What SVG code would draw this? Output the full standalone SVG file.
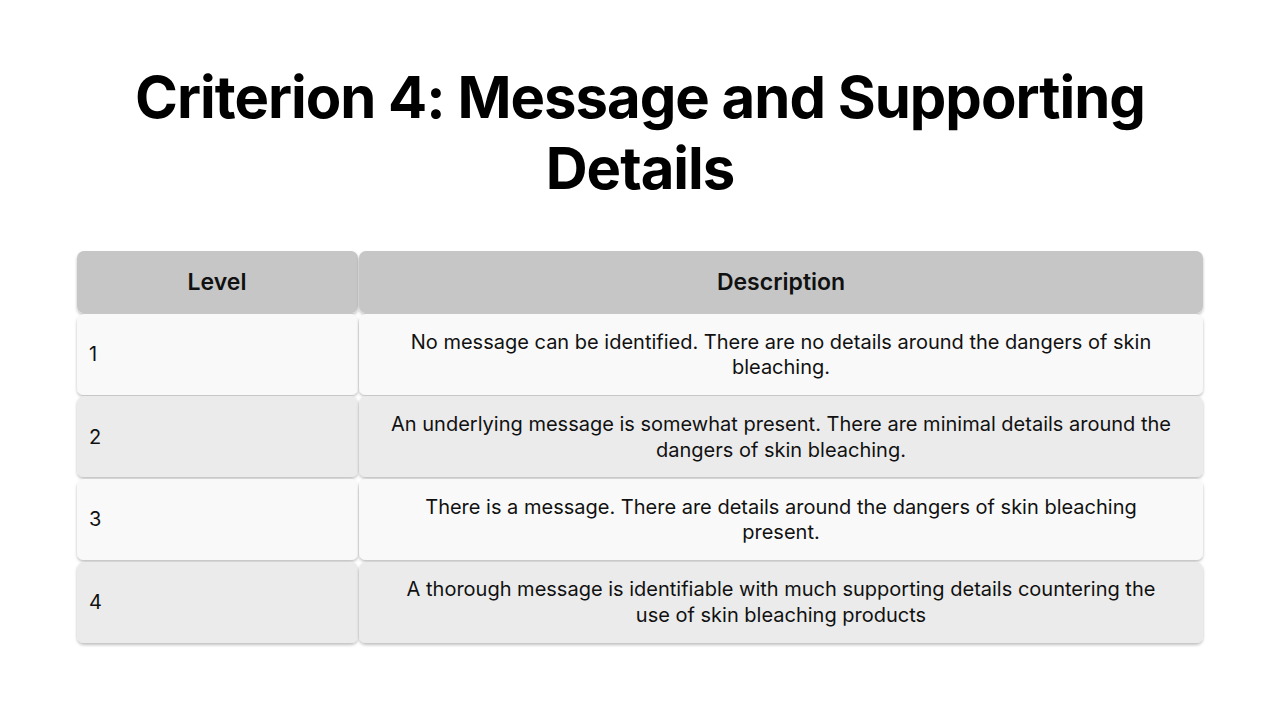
<svg xmlns="http://www.w3.org/2000/svg" width="1280" height="720" viewBox="0 0 1280 720">
<defs>
<filter id="sh" x="-5%" y="-10%" width="110%" height="130%"><feDropShadow dx="0" dy="2" stdDeviation="1.5" flood-color="#000" flood-opacity="0.25"/></filter>
<style>
.t{font-family:Inter,"Liberation Sans",sans-serif;font-weight:700;font-size:58px;fill:#000;text-anchor:middle;letter-spacing:-1px}
.h{font-family:Inter,"Liberation Sans",sans-serif;font-weight:600;font-size:23px;fill:#111;text-anchor:middle}
.b{font-family:Inter,"Liberation Sans",sans-serif;font-size:20px;fill:#111}
.c{text-anchor:middle}
.hd{fill:#c6c6c6;filter:url(#sh)}
.l{fill:#f9f9f9;filter:url(#sh)}
.d{fill:#ebebeb;filter:url(#sh)}
</style>
</defs>
<rect width="1280" height="720" fill="#fff"/>
<text class="t" x="640" y="118">Criterion 4: Message and Supporting</text>
<text class="t" x="640" y="189">Details</text>
<g id="header">
<rect class="hd" x="77" y="251" width="281" height="62" rx="7"/>
<rect class="hd" x="359" y="251" width="844" height="62" rx="7"/>
<text class="h" x="217" y="290">Level</text>
<text class="h" x="781" y="290">Description</text>
</g>
<g id="row1">
<rect class="l" x="77" y="314" width="281" height="81" rx="7"/>
<rect class="l" x="359" y="314" width="844" height="81" rx="7"/>
<text class="b" x="89" y="361">1</text>
<text class="b c" x="781" y="349">No message can be identified. There are no details around the dangers of skin</text>
<text class="b c" x="781" y="374">bleaching.</text>
</g>
<g id="row2">
<rect class="d" x="77" y="396" width="281" height="81" rx="7"/>
<rect class="d" x="359" y="396" width="844" height="81" rx="7"/>
<text class="b" x="89" y="444">2</text>
<text class="b c" x="781" y="431">An underlying message is somewhat present. There are minimal details around the</text>
<text class="b c" x="781" y="457">dangers of skin bleaching.</text>
</g>
<g id="row3">
<rect class="l" x="77" y="479" width="281" height="81" rx="7"/>
<rect class="l" x="359" y="479" width="844" height="81" rx="7"/>
<text class="b" x="89" y="526">3</text>
<text class="b c" x="781" y="514">There is a message. There are details around the dangers of skin bleaching</text>
<text class="b c" x="781" y="539">present.</text>
</g>
<g id="row4">
<rect class="d" x="77" y="562" width="281" height="81" rx="7"/>
<rect class="d" x="359" y="562" width="844" height="81" rx="7"/>
<text class="b" x="89" y="609">4</text>
<text class="b c" x="781" y="596">A thorough message is identifiable with much supporting details countering the</text>
<text class="b c" x="781" y="622">use of skin bleaching products</text>
</g>
<g id="connectors"/>
</svg>
